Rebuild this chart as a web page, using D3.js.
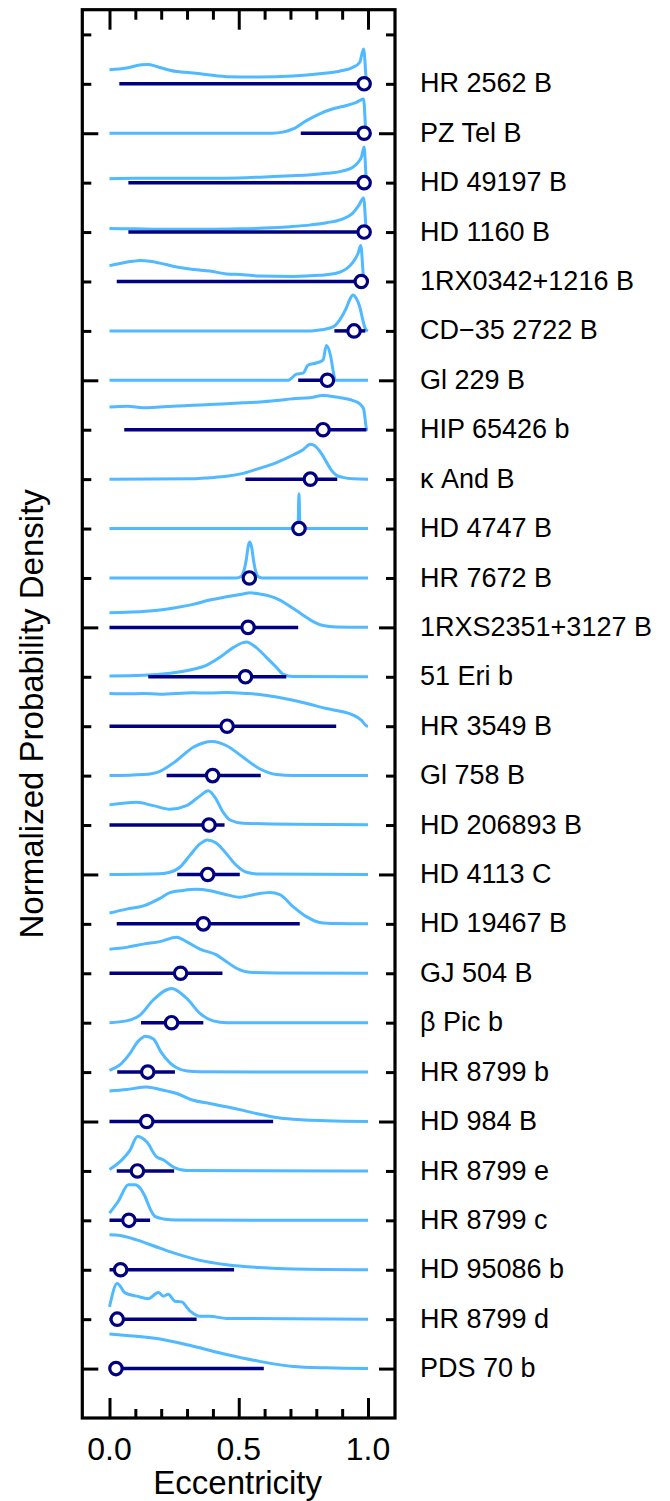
<!DOCTYPE html>
<html><head><meta charset="utf-8">
<script src="https://cdn.jsdelivr.net/npm/d3@7"></script>
<style>body{margin:0;background:#fff}svg{display:block}</style>
</head><body>
<script>
// ---- data (top to bottom) ----
const planets = ["HR 2562 B","PZ Tel B","HD 49197 B","HD 1160 B","1RX0342+1216 B","CD\u221235 2722 B","Gl 229 B","HIP 65426 b","\u03ba And B","HD 4747 B","HR 7672 B","1RXS2351+3127 B","51 Eri b","HR 3549 B","Gl 758 B","HD 206893 B","HD 4113 C","HD 19467 B","GJ 504 B","\u03b2 Pic b","HR 8799 b","HD 984 B","HR 8799 e","HR 8799 c","HD 95086 b","HR 8799 d","PDS 70 b"];
const medians = [0.985,0.985,0.985,0.985,0.974,0.946,0.843,0.826,0.777,0.733,0.541,0.536,0.526,0.455,0.399,0.385,0.380,0.363,0.275,0.240,0.148,0.144,0.108,0.075,0.043,0.030,0.025];
const lowers  = [0.038,0.740,0.073,0.073,0.028,0.870,0.730,0.057,0.526,0.729,0.530,0.000,0.150,0.000,0.221,0.000,0.262,0.028,0.000,0.122,0.030,0.000,0.028,0.000,0.000,0.000,0.000];
const uppers  = [0.985,0.985,0.985,0.985,0.974,0.990,0.865,0.994,0.881,0.737,0.552,0.730,0.684,0.877,0.585,0.445,0.504,0.736,0.437,0.363,0.253,0.633,0.250,0.157,0.482,0.337,0.597];
const densities = [
 [[0,0.39],[0.066,0.44],[0.124,0.53],[0.15,0.54],[0.182,0.48],[0.26,0.34],[0.324,0.3],[0.453,0.2],[0.581,0.19],[0.71,0.22],[0.813,0.28],[0.89,0.35],[0.942,0.46],[0.968,0.6],[0.983,0.97],[0.996,0],[1,0]],
 [[0,0],[0.63,0],[0.67,0.03],[0.71,0.12],[0.762,0.35],[0.813,0.54],[0.865,0.68],[0.917,0.77],[0.955,0.86],[0.983,0.95],[0.993,0],[1,0]],
 [[0,0.11],[0.1,0.12],[0.2,0.12],[0.3,0.12],[0.4,0.12],[0.5,0.13],[0.6,0.16],[0.7,0.19],[0.78,0.22],[0.84,0.26],[0.9,0.32],[0.94,0.42],[0.96,0.55],[0.975,0.72],[0.985,0.99],[0.995,0],[1,0]],
 [[0,0.1],[0.1,0.09],[0.2,0.08],[0.3,0.08],[0.4,0.08],[0.5,0.09],[0.6,0.11],[0.7,0.15],[0.78,0.2],[0.84,0.26],[0.9,0.36],[0.94,0.52],[0.965,0.75],[0.983,0.95],[0.995,0],[1,0]],
 [[0,0.44],[0.04,0.5],[0.09,0.56],[0.118,0.58],[0.156,0.56],[0.195,0.51],[0.26,0.4],[0.324,0.33],[0.388,0.29],[0.453,0.21],[0.517,0.19],[0.58,0.15],[0.71,0.14],[0.81,0.17],[0.877,0.23],[0.916,0.35],[0.942,0.54],[0.961,0.77],[0.972,1.0],[0.983,0.1],[0.986,0],[1,0]],
 [[0,0],[0.78,0],[0.82,0.03],[0.865,0.11],[0.89,0.3],[0.915,0.62],[0.93,0.88],[0.942,1.0],[0.955,0.9],[0.968,0.67],[0.98,0.3],[0.99,0.06],[1,0]],
 [[0,0],[0.69,0],[0.697,0.02],[0.723,0.17],[0.749,0.2],[0.768,0.42],[0.8,0.48],[0.826,0.56],[0.839,0.97],[0.855,0.69],[0.867,0.19],[0.873,0],[1,0]],
 [[0,0.63],[0.07,0.65],[0.13,0.61],[0.195,0.63],[0.26,0.66],[0.324,0.68],[0.39,0.7],[0.453,0.72],[0.517,0.75],[0.58,0.77],[0.646,0.81],[0.71,0.86],[0.775,0.89],[0.826,0.95],[0.877,0.91],[0.916,0.86],[0.942,0.81],[0.968,0.72],[0.983,0.58],[0.995,0.02],[1,0]],
 [[0,0],[0.324,0.01],[0.388,0.04],[0.453,0.08],[0.517,0.16],[0.58,0.3],[0.646,0.46],[0.71,0.67],[0.749,0.82],[0.777,0.97],[0.794,0.93],[0.82,0.71],[0.839,0.48],[0.858,0.25],[0.878,0.11],[0.903,0.05],[0.942,0.01],[1,0]],
 [[0,0],[0.729,0],[0.733,0.97],[0.737,0],[1,0]],
 [[0,0],[0.49,0],[0.51,0.05],[0.52,0.2],[0.53,0.55],[0.537,0.9],[0.543,1.0],[0.55,0.85],[0.557,0.5],[0.565,0.2],[0.575,0.04],[0.59,0],[1,0]],
 [[0,0.41],[0.066,0.42],[0.131,0.44],[0.195,0.48],[0.26,0.55],[0.324,0.64],[0.388,0.76],[0.453,0.85],[0.517,0.93],[0.543,0.96],[0.58,0.93],[0.62,0.87],[0.659,0.76],[0.71,0.53],[0.749,0.34],[0.788,0.16],[0.826,0.05],[0.878,0.01],[1,0]],
 [[0,0.02],[0.131,0.04],[0.234,0.1],[0.324,0.21],[0.375,0.32],[0.427,0.54],[0.478,0.81],[0.517,0.95],[0.53,0.97],[0.568,0.81],[0.607,0.54],[0.646,0.26],[0.672,0.07],[0.71,0.01],[1,0]],
 [[0,0.91],[0.066,0.9],[0.131,0.91],[0.195,0.89],[0.324,0.93],[0.39,0.92],[0.453,0.94],[0.53,0.91],[0.58,0.88],[0.646,0.81],[0.71,0.72],[0.775,0.61],[0.839,0.49],[0.903,0.4],[0.942,0.31],[0.974,0.17],[0.994,0.01],[1,0]],
 [[0,0],[0.131,0.03],[0.195,0.12],[0.26,0.42],[0.324,0.79],[0.398,0.95],[0.453,0.83],[0.517,0.51],[0.581,0.19],[0.646,0.03],[0.71,0],[1,0]],
 [[0,0.56],[0.105,0.63],[0.169,0.54],[0.234,0.44],[0.298,0.54],[0.35,0.81],[0.382,0.95],[0.408,0.77],[0.44,0.35],[0.466,0.14],[0.517,0.05],[0.71,0.02],[1,0.01]],
 [[0,0],[0.195,0.02],[0.234,0.06],[0.272,0.2],[0.311,0.53],[0.35,0.85],[0.379,0.96],[0.414,0.87],[0.453,0.57],[0.491,0.25],[0.53,0.06],[0.58,0.01],[1,0]],
 [[0,0.3],[0.066,0.41],[0.131,0.5],[0.195,0.71],[0.234,0.87],[0.285,0.93],[0.337,0.96],[0.388,0.92],[0.453,0.81],[0.504,0.74],[0.556,0.81],[0.62,0.87],[0.659,0.81],[0.71,0.48],[0.762,0.2],[0.813,0.04],[0.878,0.01],[1,0]],
 [[0,0.67],[0.066,0.72],[0.131,0.81],[0.195,0.88],[0.26,1.0],[0.298,0.88],[0.35,0.67],[0.414,0.51],[0.453,0.32],[0.491,0.14],[0.543,0.03],[0.646,0.01],[1,0]],
 [[0,0],[0.066,0.05],[0.118,0.21],[0.169,0.63],[0.24,0.95],[0.298,0.68],[0.35,0.26],[0.401,0.05],[0.453,0],[1,0]],
 [[0,0.05],[0.04,0.2],[0.08,0.53],[0.11,0.85],[0.14,1.0],[0.17,0.92],[0.2,0.55],[0.235,0.25],[0.26,0.12],[0.3,0.03],[0.35,0.01],[1,0]],
 [[0,0.85],[0.066,0.89],[0.144,0.96],[0.195,0.89],[0.26,0.78],[0.324,0.59],[0.388,0.5],[0.453,0.41],[0.517,0.31],[0.581,0.2],[0.646,0.11],[0.71,0.06],[0.839,0.02],[1,0]],
 [[0,0.04],[0.047,0.3],[0.079,0.57],[0.108,0.96],[0.144,0.81],[0.182,0.39],[0.208,0.31],[0.247,0.11],[0.298,0.01],[1,0]],
 [[0,0.2],[0.034,0.53],[0.073,0.99],[0.099,0.99],[0.118,0.9],[0.137,0.67],[0.156,0.34],[0.176,0.11],[0.208,0.04],[0.26,0.01],[1,0]],
 [[0,0.97],[0.041,0.95],[0.105,0.83],[0.195,0.6],[0.26,0.44],[0.35,0.26],[0.453,0.14],[0.581,0.06],[0.71,0.02],[1,0]],
 [[0,0.34],[0.03,0.99],[0.06,0.73],[0.105,0.64],[0.15,0.57],[0.189,0.74],[0.208,0.64],[0.227,0.69],[0.253,0.5],[0.279,0.48],[0.311,0.23],[0.35,0.08],[0.388,0.08],[0.453,0.02],[1,0]],
 [[0,0.96],[0.066,0.92],[0.195,0.82],[0.324,0.62],[0.453,0.39],[0.581,0.2],[0.71,0.06],[0.839,0.02],[1,0]]
];
const xTickLabels = ["0.0","0.5","1.0"];
const xMajorTicks = [0, 0.5, 1];
const xMinorTicks = [0.1,0.2,0.3,0.4,0.6,0.7,0.8,0.9];
const xTitle = "Eccentricity";
const yTitle = "Normalized Probability Density";

// ---- layout ----
const W = 670, H = 1501;
const frame = {l: 82.3, r: 395, t: 9.7, b: 1418};
const nRows = planets.length;
const x = d3.scaleLinear().domain([0, 1]).range([109.5, 368]);
const y = d3.scaleLinear().domain([-1, 27.5]).range([frame.b, frame.t]);
const hScale = d3.scaleLinear().domain([0, 1]).range([0, 0.728]); // density -> row units
const rowPos = i => nRows - 1 - i;

const BLUE = "#50b9ff", NAVY = "#000080";
const FONT = "'Liberation Sans', Arial, Helvetica, sans-serif";

const svg = d3.select("body").append("svg").attr("width", W).attr("height", H);

// curves
const line = d3.line()
  .x(d => x(d[0]))
  .y(d => y(d.row + hScale(d[1])))
  .curve(d3.curveMonotoneX);
densities.forEach((pts, i) => {
  const r = rowPos(i);
  const data = pts.map(p => { const q = [p[0], p[1]]; q.row = r; return q; });
  svg.append("path").attr("d", line(data))
    .attr("fill", "none").attr("stroke", BLUE).attr("stroke-width", 3)
    .attr("stroke-linejoin", "round");
});

// error bars
planets.forEach((p, i) => {
  svg.append("line")
    .attr("x1", x(lowers[i])).attr("x2", x(uppers[i]))
    .attr("y1", y(rowPos(i))).attr("y2", y(rowPos(i)))
    .attr("stroke", NAVY).attr("stroke-width", 3.5);
});
// median markers
planets.forEach((p, i) => {
  svg.append("circle")
    .attr("cx", x(medians[i])).attr("cy", y(rowPos(i))).attr("r", 6.2)
    .attr("fill", "#fff").attr("stroke", NAVY).attr("stroke-width", 3.2);
});

// axes ticks
function styleAxis(g) {
  g.select(".domain").remove();
  g.selectAll(".tick line").attr("stroke", "#000").attr("stroke-width", 3);
  g.selectAll(".tick text").remove();
}
const rowTicks = d3.range(0, 28);
const majorRows = rowTicks.filter(v => v % 5 === 0);
const minorRows = rowTicks.filter(v => v % 5 !== 0);

svg.append("g").attr("transform", `translate(0,${frame.b})`)
  .call(d3.axisBottom(x).tickValues(xMajorTicks).tickSize(-20)).call(styleAxis);
svg.append("g").attr("transform", `translate(0,${frame.b})`)
  .call(d3.axisBottom(x).tickValues(xMinorTicks).tickSize(-9)).call(styleAxis);
svg.append("g").attr("transform", `translate(0,${frame.t})`)
  .call(d3.axisTop(x).tickValues(xMajorTicks).tickSize(-20)).call(styleAxis);
svg.append("g").attr("transform", `translate(0,${frame.t})`)
  .call(d3.axisTop(x).tickValues(xMinorTicks).tickSize(-10)).call(styleAxis);
svg.append("g").attr("transform", `translate(${frame.l},0)`)
  .call(d3.axisLeft(y).tickValues(majorRows).tickSize(-16)).call(styleAxis);
svg.append("g").attr("transform", `translate(${frame.l},0)`)
  .call(d3.axisLeft(y).tickValues(minorRows).tickSize(-9)).call(styleAxis);
svg.append("g").attr("transform", `translate(${frame.r},0)`)
  .call(d3.axisRight(y).tickValues(majorRows).tickSize(-16)).call(styleAxis);
svg.append("g").attr("transform", `translate(${frame.r},0)`)
  .call(d3.axisRight(y).tickValues(minorRows).tickSize(-9)).call(styleAxis);

// frame
svg.append("rect")
  .attr("x", frame.l).attr("y", frame.t)
  .attr("width", frame.r - frame.l).attr("height", frame.b - frame.t)
  .attr("fill", "none").attr("stroke", "#000").attr("stroke-width", 3.2);

// planet labels
planets.forEach((p, i) => {
  svg.append("text").attr("x", 420).attr("y", y(rowPos(i)) + 8.6)
    .attr("font-family", FONT).attr("font-size", 27).attr("fill", "#000").text(p);
});

// x tick labels
xMajorTicks.forEach((v, k) => {
  svg.append("text").attr("x", x(v)).attr("y", 1460)
    .attr("text-anchor", "middle").attr("font-family", FONT).attr("font-size", 32)
    .attr("fill", "#000").text(xTickLabels[k]);
});
svg.append("text").attr("x", (frame.l + frame.r) / 2 - 1).attr("y", 1494)
  .attr("text-anchor", "middle").attr("font-family", FONT).attr("font-size", 33)
  .attr("fill", "#000").text(xTitle);
svg.append("text").attr("transform", `translate(43,${(frame.t + frame.b) / 2}) rotate(-90)`)
  .attr("text-anchor", "middle").attr("font-family", FONT).attr("font-size", 33)
  .attr("fill", "#000").text(yTitle);
</script>
</body></html>
